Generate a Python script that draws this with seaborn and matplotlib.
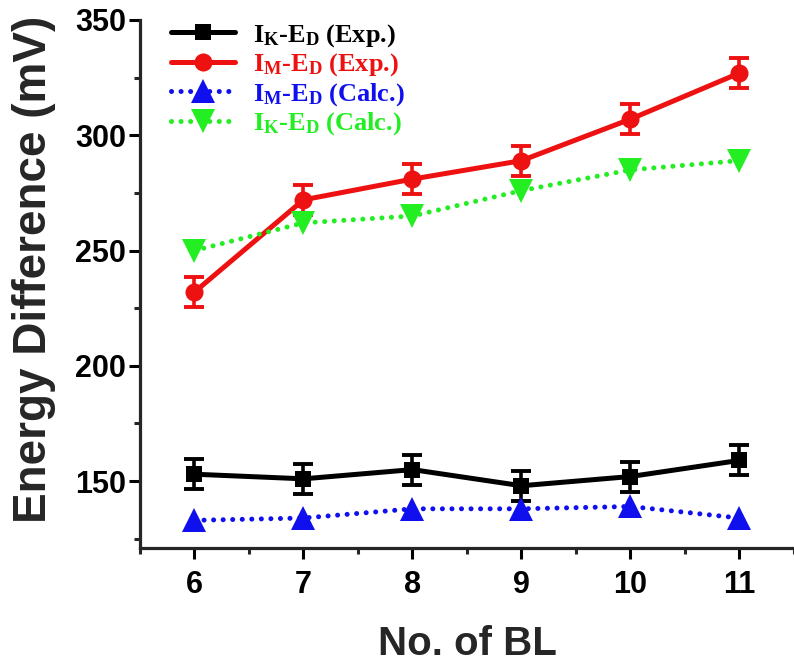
import matplotlib
matplotlib.use("Agg")
import matplotlib.pyplot as plt
from matplotlib.ticker import MultipleLocator
import pandas as pd
import seaborn as sns

# Number of bilayers
bl = [6, 7, 8, 9, 10, 11]

# Energy differences (mV)
ik_ed_exp = [153, 151, 155, 148, 152, 159]
ik_ed_exp_err = [6.5, 6.5, 6.5, 6.5, 6.5, 6.5]
im_ed_exp = [232, 272, 281, 289, 307, 327]
im_ed_exp_err = [6.5, 6.5, 6.5, 6.5, 6.5, 6.5]
im_ed_calc = [133, 134, 138, 138, 139, 134]
ik_ed_calc = [250, 262, 265, 276, 285, 289]

labels = [r"$\mathrm{I_K}$-$\mathrm{E_D}$ (Exp.)",
          r"$\mathrm{I_M}$-$\mathrm{E_D}$ (Exp.)",
          r"$\mathrm{I_M}$-$\mathrm{E_D}$ (Calc.)",
          r"$\mathrm{I_K}$-$\mathrm{E_D}$ (Calc.)"]

sns.set_theme(style="ticks")
plt.rcParams["font.family"] = ["Liberation Sans", "DejaVu Sans"]
plt.rcParams["mathtext.fontset"] = "custom"
plt.rcParams["mathtext.rm"] = "Liberation Serif:bold"
plt.rcParams["mathtext.it"] = "Liberation Serif:bold:italic"
plt.rcParams["mathtext.bf"] = "Liberation Serif:bold"

fig = plt.figure(figsize=(7.94, 6.64), dpi=100)
ax = fig.add_axes([0.1763, 0.1747, 0.8237, 0.7952])

df = pd.DataFrame({"bl": bl, "ik_exp": ik_ed_exp, "im_exp": im_ed_exp,
                   "im_calc": im_ed_calc, "ik_calc": ik_ed_calc})

dot = (0, (0.01, 1.9))
series = [
    ("ik_exp", "black", "s", 11.5, "-", labels[0]),
    ("im_exp", "#ee1111", "o", 13, "-", labels[1]),
    ("im_calc", "#1010ee", "^", 17, dot, labels[2]),
    ("ik_calc", "#22ee22", "v", 17, dot, labels[3]),
]

for col, color, marker, ms, ls, lab in series:
    sns.lineplot(data=df, x="bl", y=col, ax=ax, color=color, marker=marker,
                 markersize=ms, markeredgecolor=color, markeredgewidth=0,
                 linewidth=3.6, linestyle=ls, dash_capstyle="round",
                 label=lab, zorder=3)

ax.errorbar(bl, ik_ed_exp, yerr=ik_ed_exp_err, fmt="none", ecolor="black",
            elinewidth=2.6, capsize=7, capthick=2.8, zorder=2)
ax.errorbar(bl, im_ed_exp, yerr=im_ed_exp_err, fmt="none", ecolor="#ee1111",
            elinewidth=2.6, capsize=7, capthick=2.8, zorder=2)

ax.set_xlim(5.5, 11.5)
ax.set_ylim(121, 350)
ax.xaxis.set_major_locator(MultipleLocator(1))
ax.xaxis.set_minor_locator(MultipleLocator(0.5))
ax.yaxis.set_major_locator(MultipleLocator(50))
ax.yaxis.set_minor_locator(MultipleLocator(25))

sns.despine(ax=ax)
for side in ("left", "bottom"):
    ax.spines[side].set_linewidth(2.3)
ax.tick_params(axis="both", which="major", direction="out", length=8,
               width=2.2, labelsize=22, colors="black")
ax.tick_params(axis="both", which="minor", direction="out", length=4.5,
               width=2.2)
ax.tick_params(axis="x", which="major", pad=8)
ax.tick_params(axis="y", which="major", pad=2)
for t in ax.get_xticklabels() + ax.get_yticklabels():
    t.set_fontweight("bold")

ax.set_xlabel("No. of BL", fontsize=29, fontweight="bold")
ax.set_ylabel("Energy Difference (mV)", fontsize=33, fontweight="bold")
ax.xaxis.set_label_coords(0.5, -0.1456)
ax.yaxis.set_label_coords(-0.129, 0.527)

leg = ax.legend(loc="upper left", bbox_to_anchor=(0.04, 1.006), frameon=False,
                prop={"family": "Liberation Serif", "weight": "bold",
                      "size": 19},
                handlelength=2.4, handletextpad=0.7, labelspacing=0.1,
                borderaxespad=0.0, borderpad=0.2)
for text, s in zip(leg.get_texts(), series):
    text.set_color(s[1])

fig.savefig("out.png", dpi=100)
